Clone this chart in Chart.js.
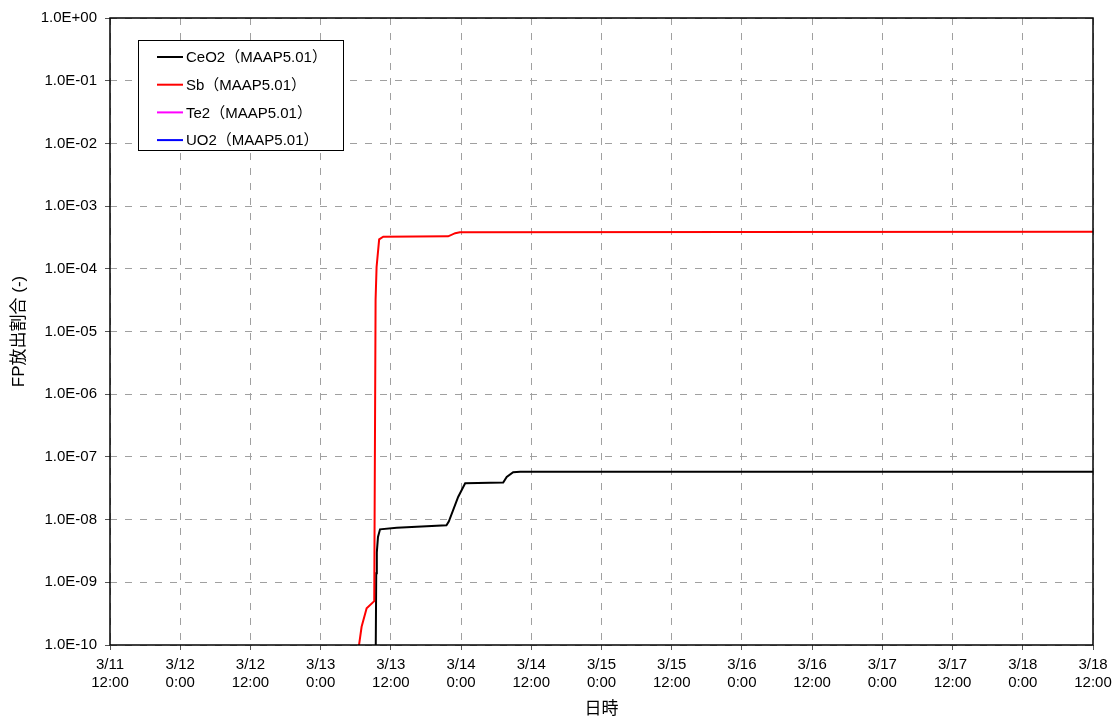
<!DOCTYPE html>
<html>
<head>
<meta charset="utf-8">
<script src="https://cdn.jsdelivr.net/npm/chart.js@4/dist/chart.umd.min.js"></script>
<style>
  html,body{margin:0;padding:0;background:#fff;}
  #wrap{width:1118px;height:722px;}
</style>
</head>
<body>
<div id="wrap"><canvas id="fpchart" width="1118" height="722"></canvas></div>
<script>
// hours counted from 3/11 0:00
var seriesNames=['CeO2（MAAP5.01）','Sb（MAAP5.01）','Te2（MAAP5.01）','UO2（MAAP5.01）'];
var seriesColors=['#000000','#ff0000','#ff00ff','#0000ff'];

var ceo2Hours=[57.4,57.5,57.6,57.8,58.15,61.0,69.5,69.9,71.5,72.7,79.2,79.8,80.9,82.1,120,180];
var ceo2Vals=[5e-11,1.4e-9,3.0e-9,5.3e-9,7.0e-9,7.4e-9,8.1e-9,9.3e-9,2.3e-8,3.8e-8,3.9e-8,4.8e-8,5.7e-8,5.8e-8,5.8e-8,5.8e-8];

var sbHours=[54.4,54.56,55.0,55.86,57.16,57.39,57.56,58.0,58.7,69.8,71.0,71.8,120,180];
var sbVals=[5e-11,1.0e-10,1.95e-10,3.85e-10,5.0e-10,3.2e-5,1.07e-4,2.95e-4,3.25e-4,3.3e-4,3.7e-4,3.83e-4,3.87e-4,3.9e-4];

// Te2 and UO2 stay below the 1.0E-10 floor of the plot
var te2Hours=[];
var te2Vals=[];
var uo2Hours=[];
var uo2Vals=[];

var xMin=12, xMax=180, xStep=12;
var yMin=1e-10, yMax=1;

function pts(h,v){
  var out=[];
  for(var i=0;i<h.length;i++) out.push({x:h[i],y:v[i]});
  return out;
}

var allData=[pts(ceo2Hours,ceo2Vals),pts(sbHours,sbVals),pts(te2Hours,te2Vals),pts(uo2Hours,uo2Vals)];
var datasets=[];
for(var i=0;i<seriesNames.length;i++){
  datasets.push({
    label:seriesNames[i],
    data:allData[i],
    borderColor:seriesColors[i],
    backgroundColor:seriesColors[i],
    borderWidth:2,
    pointRadius:0,
    tension:0,
    fill:false
  });
}
datasets[0].order=1;datasets[1].order=0;

var fontFam='"Liberation Sans", Arial, "Noto Sans CJK JP", sans-serif';
var legFont='"Liberation Sans", "Noto Sans CJK JP", sans-serif';

// legend drawn inside the plot
var boxLegend={
  id:'boxLegend',
  afterDraw:function(chart){
    var c=chart.ctx;
    var x0=138,y0=40,w=205,h=110;
    c.save();
    c.fillStyle='#fff';
    c.fillRect(x0,y0,w,h);
    c.strokeStyle='#000';c.lineWidth=1;
    c.strokeRect(x0+0.5,y0+0.5,w,h);
    c.font='15px '+legFont;
    c.textBaseline='middle';
    for(var i=0;i<seriesNames.length;i++){
      var yy=y0+17+i*27.7;
      c.strokeStyle=seriesColors[i];c.lineWidth=2;
      c.beginPath();c.moveTo(157,yy);c.lineTo(183,yy);c.stroke();
      c.fillStyle='#000';
      c.fillText(seriesNames[i],186,yy+1);
    }
    c.restore();
  }
};

// black frame around the plot area
var frame={
  id:'frame',
  afterDatasetsDraw:function(chart){
    var a=chart.chartArea,c=chart.ctx;
    c.save();
    c.strokeStyle='#000';c.lineWidth=1.5;
    c.strokeRect(a.left,a.top,a.right-a.left,a.bottom-a.top);
    c.restore();
  }
};

var cfg={
  type:'line',
  data:{datasets:datasets},
  options:{
    responsive:false,
    animation:false,
    layout:{padding:{left:0,right:25,top:18,bottom:0}},
    plugins:{legend:{display:false},tooltip:{enabled:false}},
    scales:{
      x:{
        type:'linear',
        min:xMin,max:xMax,
        afterBuildTicks:function(s){
          var t=[];
          for(var v=xMin;v<=xMax;v+=xStep) t.push({value:v});
          s.ticks=t;
        },
        afterFit:function(s){s.height=77;},
        ticks:{
          color:'#000',
          font:{family:fontFam,size:15,lineHeight:1.2},
          maxRotation:0,
          padding:6,
          callback:function(v){
            var d=11+Math.floor(v/24);
            var hr=v%24;
            return ['3/'+d,hr+':00'];
          }
        },
        grid:{color:'#a0a0a0',tickLength:5,tickColor:'#555'},
        border:{display:false,dash:[7,8]},
        title:{display:true,text:'日時',color:'#000',font:{family:fontFam,size:17},padding:{top:2,bottom:2}}
      },
      y:{
        type:'logarithmic',
        min:yMin,max:yMax,
        afterBuildTicks:function(s){
          var t=[];
          for(var e=-10;e<=0;e++) t.push({value:Math.pow(10,e)});
          s.ticks=t;
        },
        afterFit:function(s){s.width=110;},
        ticks:{
          color:'#000',
          font:{family:fontFam,size:15},
          padding:8,
          callback:function(v){
            var e=Math.round(Math.log10(v));
            var sgn=e<0?'-':'+';
            var a=Math.abs(e);
            return '1.0E'+sgn+(a<10?'0':'')+a;
          }
        },
        grid:{color:'#a0a0a0',tickLength:5,tickColor:'#555'},
        border:{display:false,dash:[7,8]},
        title:{display:true,text:'FP放出割合 (-)',color:'#000',font:{family:fontFam,size:17},padding:{top:9,bottom:4}}
      }
    }
  },
  plugins:[frame,boxLegend]
};

var fpChart=new Chart(document.getElementById('fpchart').getContext('2d'),cfg);
</script>
</body>
</html>
